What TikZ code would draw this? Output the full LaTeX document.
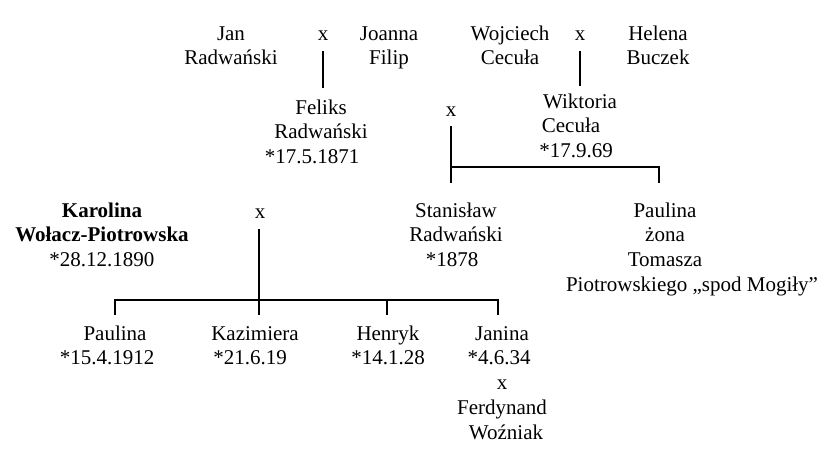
\documentclass[tikz,border=0pt]{standalone}
\usepackage{fontspec}
\setmainfont{Liberation Serif}
\newcommand\blk[1]{\begin{tabular}[t]{@{}c@{}}#1\end{tabular}}
\begin{document}
\begin{tikzpicture}[x=1pt,y=-1pt,
  person/.style={anchor=base,inner sep=0pt,font=\fontsize{21}{24.8}\selectfont},
  conn/.style={line width=2.2pt,line cap=rect}]
\useasboundingbox (0,0) rectangle (833,456);
% generation 1
\node[person] (jan) at (231,40) {\blk{Jan\\Radwański}};
\node[person] (m1) at (323,40) {x};
\node[person] (joanna) at (389,40) {\blk{Joanna\\Filip}};
\node[person] (wojciech) at (510,40) {\blk{Wojciech\\Cecuła}};
\node[person] (m2) at (580,40) {x};
\node[person] (helena) at (658,40) {\blk{Helena\\Buczek}};
% generation 2
\node[person] (feliks) at (321,114) {\blk{Feliks\\Radwański\\\kern-18pt*17.5.1871}};
\node[person] (m3) at (451,116) {x};
\node[person] (wiktoria) at (576,108) {\blk{\kern8pt Wiktoria\\\kern-10pt Cecuła\\\relax*17.9.69}};
% generation 3
\node[person] (karolina) at (102,217) {\blk{\textbf{Karolina}\\\textbf{Wołacz-Piotrowska}\\\relax*28.12.1890}};
\node[person] (m4) at (260,218) {x};
\node[person] (stanislaw) at (456,217) {\blk{Stanisław\\Radwański\\\kern-8pt*1878}};
\node[person] (paulinat) at (665,217) {\blk{Paulina\\żona\\Tomasza\\\kern54pt Piotrowskiego „spod Mogiły”}};
% generation 4
\node[person] (paulina) at (115,340) {\blk{Paulina\\\kern-16pt*15.4.1912}};
\node[person] (kazimiera) at (255,340) {\blk{Kazimiera\\\kern-10pt*21.6.19}};
\node[person] (henryk) at (388,340) {\blk{Henryk\\\relax*14.1.28}};
\node[person] (janina) at (502,340) {\blk{Janina\\\kern-6pt*4.6.34\\x\\Ferdynand\\\kern8pt Woźniak}};
% junction coordinates
\coordinate (a1) at (323,52); \coordinate (a2) at (323,87);
\coordinate (b1) at (580,52); \coordinate (b2) at (580,85);
\coordinate (c1) at (451,127); \coordinate (c2) at (451,182);
\coordinate (c3) at (451,167); \coordinate (c4) at (659,167); \coordinate (c5) at (659,182);
\coordinate (d1) at (259,230); \coordinate (d2) at (259,314);
\coordinate (e1) at (115,300); \coordinate (e2) at (498,300);
\coordinate (e3) at (115,314); \coordinate (e4) at (387,300); \coordinate (e5) at (387,314);
\coordinate (e6) at (498,314);
% connectors
\draw[conn] (a1) -- (a2);
\draw[conn] (b1) -- (b2);
\draw[conn] (c1) -- (c2);
\draw[conn] (c3) -- (c4) -- (c5);
\draw[conn] (d1) -- (d2);
\draw[conn] (e3) -- (e1) -- (e2) -- (e6);
\draw[conn] (e4) -- (e5);
\end{tikzpicture}
\end{document}
